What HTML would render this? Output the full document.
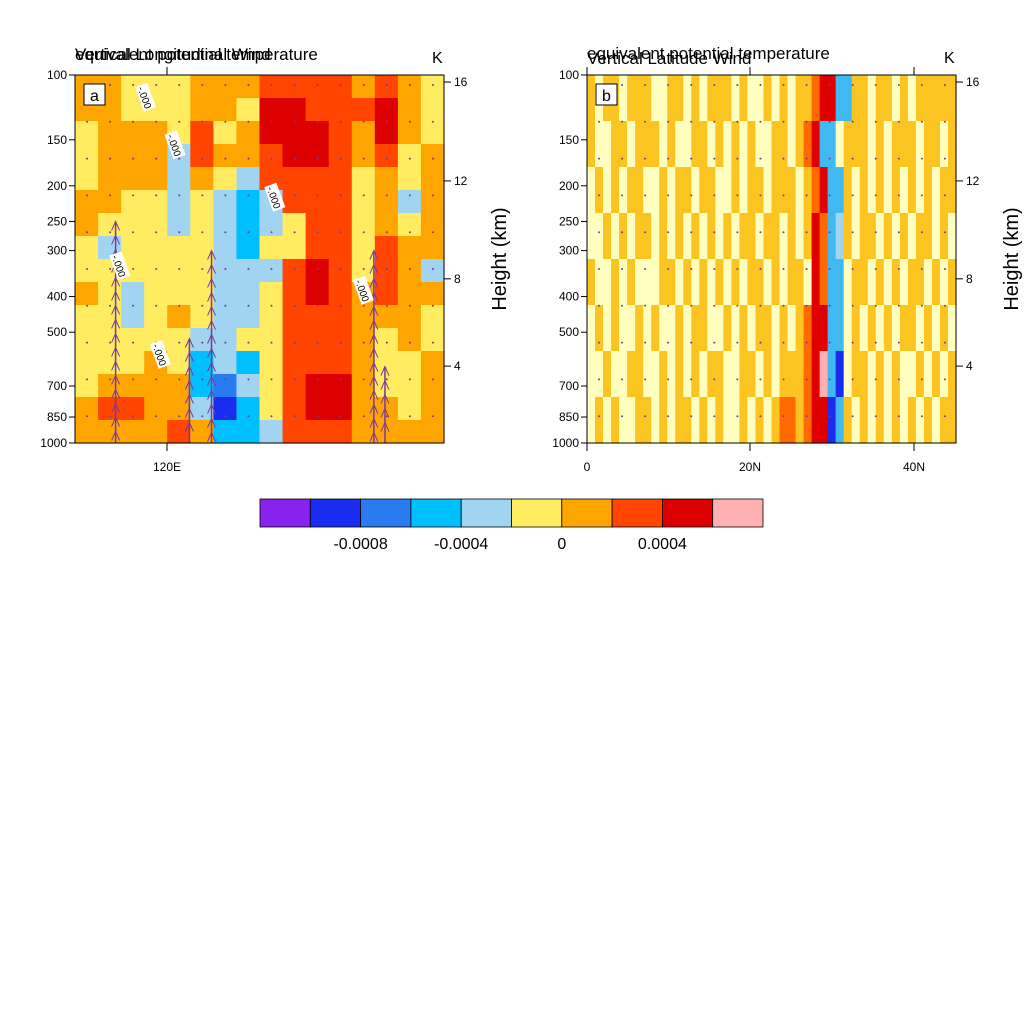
<!DOCTYPE html>
<html><head><meta charset="utf-8"><style>
body{margin:0;background:#fff;}
svg{display:block;font-family:"Liberation Sans",sans-serif;}
</style></head><body>
<svg id="c" width="1024" height="1024" viewBox="0 0 1024 1024"></svg>
<script>
const levelColors=["#8a22ee","#1a2cf0","#2a7af0","#00bfff","#a0d4f0","#ffec60","#ffa500","#ff4500","#dd0000","#ffb0b0"];
const panelBColors=["#8a22ee","#1a2cf0","#2a7af0","#40b8f0","#a0d4f0","#ffffc0","#fcc420","#ff6a00","#e00000","#ffb0b0"];
const gridA=[
"6655566677776765","6655566588777865","5666575688876865","5666476678876756",
"5666465477775656","6655454347775646","6555454345775656","5455554355775766",
"5555554447875764","6545554457876766","5545654457776665","5555544557776565",
"5556534357776556","5666632457886556","6776641357886656","6666763347776666"];
const gridB=[
"6566566655665656665655656566788336656656566666",
"6556656665655665656565566567833566656566656656",
"5656566556566566556566566656783365656565656566",
"5565656656565656565665665656873465665656566565",
"6556565556656565656566565665873356656565665656",
"5656556565565665565656656567883356565656656565",
"5565566556565656655665656667893156656565565656",
"5656556656566565655656567767881365656565656566"];
const pressureTicks=[100,150,200,250,300,400,500,700,850,1000];
const heightTicks=[16,12,8,4];
const heightAsPressure=[104.5,194,358,618];
const colorbarLabels=["-0.0008","-0.0004","0","0.0004"];
const colorbarLabelIdx=[2,4,6,8];
// long updraft arrows in panel a: column fraction, top pressure
const updraftCol=[0.31,0.37,0.81,0.84,0.11];
const updraftTop=[520,300,300,620,250];
// contour labels panel a: x fraction, pressure
const labelAX=[0.19,0.27,0.54,0.12,0.23,0.78];
const labelAP=[115,155,215,330,575,385];
const NS="http://www.w3.org/2000/svg";
const svg=document.getElementById('c');
function el(t,a,p){const e=document.createElementNS(NS,t);for(const k in a)e.setAttribute(k,a[k]);(p||svg).appendChild(e);return e;}
function yP(p,top,h){return top+Math.log(p/100)/Math.log(10)*h;}
function panel(x0,grid,cols,label,id,titles,xl,xlPos,extras){
 const y0=75,W=369,H=368;
 const g=el('g',{});
 
 
 const nr=grid.length,nc=grid[0].length;
 for(let r=0;r<nr;r++)for(let c=0;c<nc;c++){
  const v=+grid[r][c];
  const rc=el('rect',{x:x0+c*W/nc,y:y0+r*H/nr,width:W/nc+0.6,height:H/nr+0.6,fill:cols[v]},g);
  
  
 }
 for(let r=0;r<10;r++)for(let c=0;c<16;c++){
  const d=el('circle',{cx:x0+12+c*W/16,cy:y0+10+r*H/10,r:1,fill:'#7a3a9a'},g);
  
  
 }
 if(extras){
  updraftCol.forEach((f,i)=>{const x=x0+f*W,yt=yP(updraftTop[i],y0,H);
   const l=el('line',{x1:x,x2:x,y1:y0+H,y2:yt,stroke:'#7a3a9a','stroke-width':1.5},g);
   
   for(let yy=yt;yy<y0+H-10;yy+=14) el('polyline',{points:`${x-4},${yy+9} ${x},${yy} ${x+4},${yy+9}`,fill:'none',stroke:'#7a3a9a'},g);
  });
  labelAX.forEach((f,i)=>{const x=x0+f*W,y=yP(labelAP[i],y0,H);
   const lg=el('g',{transform:`translate(${x},${y}) rotate(70)`},g);
   
   el('rect',{x:-13,y:-7,width:26,height:13,fill:'#fff'},lg);
   const t=el('text',{x:0,y:4,'font-size':10,'text-anchor':'middle'},lg);t.textContent='-.000';
  });
 }
 el('rect',{x:x0,y:y0,width:W,height:H,fill:'none',stroke:'#000','stroke-width':1},g);
 pressureTicks.forEach(p=>{const y=yP(p,y0,H);
  el('line',{x1:x0-6,x2:x0,y1:y,y2:y,stroke:'#000'},g);
  const t=el('text',{x:x0-8,y:y+4,'font-size':12,'text-anchor':'end'},g);t.textContent=p;
  });
 heightTicks.forEach((h,i)=>{const y=yP(heightAsPressure[i],y0,H);
  el('line',{x1:x0+W,x2:x0+W+7,y1:y,y2:y,stroke:'#000'},g);
  const t=el('text',{x:x0+W+10,y:y+4,'font-size':12},g);t.textContent=h;
  });
 xl.forEach((s,i)=>{const x=xlPos[i];
  el('line',{x1:x,x2:x,y1:y0+H,y2:y0+H+8,stroke:'#000'},g);
  el('line',{x1:x,x2:x,y1:y0-8,y2:y0,stroke:'#000'},g);
  const t=el('text',{x:x,y:y0+H+28,'font-size':12,'text-anchor':'middle'},g);t.textContent=s;
  });
 const yt=el('text',{transform:`translate(${x0+W+62},${y0+H/2}) rotate(-90)`,'font-size':20,'text-anchor':'middle'},g);
 yt.textContent='Height (km)';
 el('rect',{x:x0+9,y:y0+9,width:21,height:21,fill:'#fff',stroke:'#000'},g);
 const pl=el('text',{x:x0+19.5,y:y0+26,'font-size':16,'text-anchor':'middle'},g);pl.textContent=label;
 
 titles.forEach(([s,dy])=>{const t=el('text',{x:x0,y:y0+dy,'font-size':17},g);t.textContent=s;
  });
 const k=el('text',{x:x0+W-12,y:y0-12,'font-size':16},g);k.textContent='K';
 
}
panel(75,gridA,levelColors,'a','panel-a',[['Vertical Longitudinal Wind',-15],['equivalent potential temperature',-15]],['120E'],[167],true);
panel(587,gridB,panelBColors,'b','panel-b',[['equivalent potential temperature',-16],['Vertical Latitude Wind',-11]],['0','20N','40N'],[587,750,914],false);
const cb=el('g',{});
levelColors.forEach((c,i)=>{const r=el('rect',{x:260+i*50.3,y:499,width:50.3,height:28,fill:c,stroke:'#000','stroke-width':0.8},cb);
 });
colorbarLabels.forEach((s,i)=>{const t=el('text',{x:260+colorbarLabelIdx[i]*50.3,y:549,'font-size':16,'text-anchor':'middle'},cb);t.textContent=s;
 });
</script>
</body></html>
